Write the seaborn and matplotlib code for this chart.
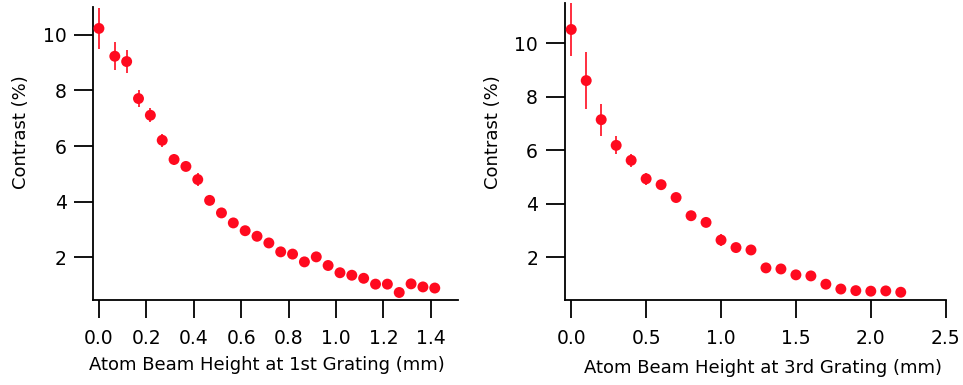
import matplotlib
matplotlib.use("Agg")
import matplotlib.pyplot as plt
import seaborn as sns
import pandas as pd

# ---- data ----
x_first = [0.0, 0.067, 0.117, 0.167, 0.217, 0.267, 0.317, 0.367, 0.417, 0.467,
           0.517, 0.567, 0.617, 0.667, 0.717, 0.767, 0.817, 0.867, 0.917, 0.967,
           1.017, 1.067, 1.117, 1.167, 1.217, 1.267, 1.317, 1.367, 1.417]
c_first = [10.23, 9.23, 9.04, 7.71, 7.11, 6.21, 5.52, 5.27, 4.80, 4.05,
           3.60, 3.24, 2.96, 2.76, 2.52, 2.20, 2.12, 1.84, 2.02, 1.71,
           1.45, 1.36, 1.25, 1.04, 1.04, 0.74, 1.05, 0.94, 0.90]
e_first = [0.75, 0.50, 0.40, 0.30, 0.25, 0.23, 0.20, 0.15, 0.23, 0.10,
           0.10, 0.10, 0.10, 0.10, 0.10, 0.10, 0.10, 0.10, 0.10, 0.10,
           0.10, 0.10, 0.10, 0.10, 0.10, 0.10, 0.10, 0.10, 0.10]

x_third = [0.0, 0.1, 0.2, 0.3, 0.4, 0.5, 0.6, 0.7, 0.8, 0.9, 1.0, 1.1,
           1.2, 1.3, 1.4, 1.5, 1.6, 1.7, 1.8, 1.9, 2.0, 2.1, 2.2]
c_third = [10.51, 8.60, 7.14, 6.18, 5.62, 4.93, 4.71, 4.23, 3.55, 3.30, 2.64, 2.36,
           2.27, 1.60, 1.56, 1.34, 1.30, 0.99, 0.81, 0.75, 0.73, 0.74, 0.69]
e_third = [1.00, 1.06, 0.60, 0.34, 0.25, 0.22, 0.15, 0.15, 0.10, 0.10, 0.22, 0.10,
           0.10, 0.10, 0.10, 0.10, 0.10, 0.10, 0.10, 0.10, 0.10, 0.10, 0.10]

xticks_first = [0.0, 0.2, 0.4, 0.6, 0.8, 1.0, 1.2, 1.4]
xticks_third = [0.0, 0.5, 1.0, 1.5, 2.0, 2.5]
yticks = [2, 4, 6, 8, 10]

xlabel_first = "Atom Beam Height at 1st Grating (mm)"
xlabel_third = "Atom Beam Height at 3rd Grating (mm)"
ylabel = "Contrast (%)"

RED = "#ff0a1f"

sns.set_style("ticks")
plt.rcParams["font.family"] = ["DejaVu Sans"]

fig = plt.figure(figsize=(9.63, 3.85), dpi=100)
ax1 = fig.add_axes([93/963, 85/385, 365/963, 293/385])
ax2 = fig.add_axes([564.5/963, 85/385, 381.2/963, 297/385])

panels = [
    (ax1, x_first, c_first, e_first, xticks_first, (-0.025, 1.515), (0.47, 11.0),
     xlabel_first, 0.477, 0.573, 6),
    (ax2, x_third, c_third, e_third, xticks_third, (-0.045, 2.5), (0.40, 11.5),
     xlabel_third, 0.522, 0.566, 8),
]

for ax, xs, cs, es, xt, xl, yl, xlab, xlx, yly, xpad in panels:
    df = pd.DataFrame({"x": xs, "c": cs, "e": es})
    ax.errorbar(df["x"], df["c"], yerr=df["e"], fmt="none", ecolor=RED,
                elinewidth=1.2, capsize=0, zorder=2, clip_on=False)
    sns.scatterplot(data=df, x="x", y="c", ax=ax, color=RED, s=62,
                    edgecolor="none", linewidth=0, zorder=3, clip_on=False)
    ax.set_xlim(*xl)
    ax.set_ylim(*yl)
    ax.set_xticks(xt)
    ax.set_xticklabels([f"{v:.1f}" for v in xt])
    ax.set_yticks(yticks)
    ax.set_yticklabels([str(v) for v in yticks])
    ax.set_xlabel(xlab, fontsize=13, labelpad=xpad, color="black")
    ax.set_ylabel(ylabel, fontsize=13, labelpad=9, color="black")
    ax.xaxis.label.set_x(xlx)
    ax.yaxis.label.set_y(yly)
    for s in ["top", "right"]:
        ax.spines[s].set_visible(False)
    for s in ["left", "bottom"]:
        ax.spines[s].set_linewidth(1.3)
        ax.spines[s].set_color("black")
    ax.tick_params(axis="x", direction="out", length=13, width=1.3,
                   colors="black", labelsize=13.5, pad=8)
    ax.tick_params(axis="y", direction="out", length=14, width=1.3,
                   colors="black", labelsize=13.5, pad=5)

fig.savefig("out.png", dpi=100)
